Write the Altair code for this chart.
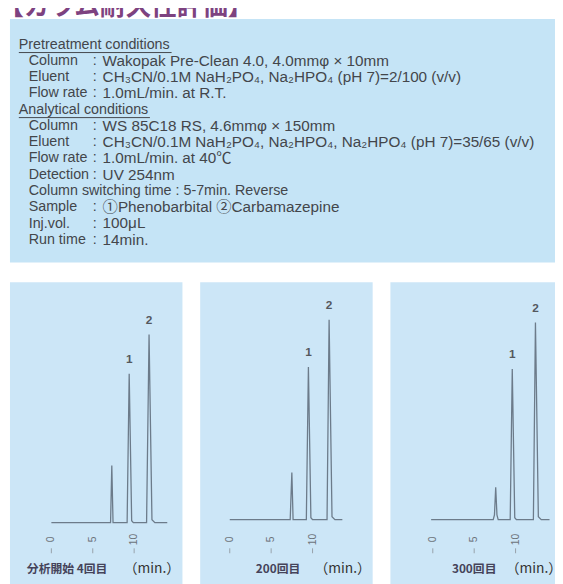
import altair as alt
import pandas as pd

# ---------------- data ----------------
TITLE = "【カラム耐久性評価】"

COND_LABELS = [
    "Pretreatment conditions", "Column", "Eluent", "Flow rate",
    "Analytical conditions", "Column", "Eluent", "Flow rate", "Detection",
    "Column switching time  :  5-7min. Reverse", "Sample", "Inj.vol.", "Run time",
]
COND_SEPS = ["", ":", ":", ":", "", ":", ":", ":", ":", "", ":", ":", ":"]
COND_VALUES = [
    "", "Wakopak Pre-Clean 4.0,  4.0mmφ × 10mm",
    "CH₃CN/0.1M NaH₂PO₄, Na₂HPO₄ (pH 7)=2/100 (v/v)",
    "1.0mL/min.  at R.T.",
    "", "WS 85C18 RS, 4.6mmφ × 150mm",
    "CH₃CN/0.1M NaH₂PO₄, Na₂HPO₄, Na₂HPO₄ (pH 7)=35/65 (v/v)",
    "1.0mL/min.  at 40℃", "UV 254nm", "",
    "①Phenobarbital   ②Carbamazepine", "100μL", "14min.",
]
COND_HEADER = [True, False, False, False, True, False, False, False, False,
               False, False, False, False]

PANEL_CAPTIONS = ["分析開始 4回目", "200回目", "300回目"]
UNIT_LABEL = "（min.）"
TICK_VALUES = [0, 5, 10]
PEAK_NAMES = ["1", "2"]

# chromatograms: time (min) and detector response (arbitrary units)
TIMES_1 = [0.0, 7.15, 7.3, 7.45, 9.15, 9.4, 9.7, 9.9, 11.5, 11.8, 12.15, 12.5, 14.0]
SIGNAL_1 = [0, 0, 58, 0, 0, 151, 2, 0, 0, 191, 3, 0, 0]
TIMES_2 = [0.0, 7.3, 7.5, 7.65, 9.25, 9.5, 9.8, 10.0, 11.75, 12.0, 12.35, 12.7, 13.6]
SIGNAL_2 = [0, 0, 48, 0, 0, 155, 2, 0, 0, 203, 3, 0, 0]
TIMES_3 = [-0.2, 7.3, 7.45, 7.6, 7.75, 7.9, 9.35, 9.6, 9.9, 10.1, 12.15, 12.4, 12.75, 13.1, 14.1]
SIGNAL_3 = [0, 0, 5, 33, 5, 0, 0, 153, 2, 0, 0, 200, 3, 0, 0]

PEAK_TIMES = [[9.4, 11.8], [9.5, 12.0], [9.6, 12.4]]
PEAK_HEIGHTS = [[151, 191], [155, 203], [153, 200]]

# ---------------- styles / layout ----------------
W, H = 555, 576
BOX_BG = "#c5e4f6"
PANEL_BG = "#cce6f7"
TEXT_C = "#43464b"
LINE_C = "#6c7b8a"
FONT = "Liberation Sans, Noto Sans CJK JP"
CJK = "Noto Sans CJK JP"
FS_LAB = 14.5
FS_VAL = 15.5

panel_boxes = [(2, 177), (195, 370), (388, 560)]
x_ranges = [(44, 44 + 14 * 8.4), (225, 225 + 14 * 8.4), (431, 431 + 14 * 8.4)]
baselines = [518, 515, 515]
cap_x = [60, 274, 473]
unit_x = [146, 339.5, 533.5]

layers = []

# title (partially above the picture)
layers.append(
    alt.Chart(pd.DataFrame({"t": [TITLE]})).mark_text(
        font=CJK, fontSize=26, fontWeight="bold", color="#7d4280",
        align="left", baseline="alphabetic"
    ).encode(x=alt.value(-10), y=alt.value(3), text="t:N")
)

# condition box
layers.append(
    alt.Chart(pd.DataFrame({"a": [0]})).mark_rect(color=BOX_BG).encode(
        x=alt.value(2), x2=alt.value(W), y=alt.value(7), y2=alt.value(254)
    )
)

cond = pd.DataFrame({
    "row": list(range(len(COND_LABELS))),
    "label": COND_LABELS, "sep": COND_SEPS, "value": COND_VALUES,
    "header": COND_HEADER,
})
yrow = alt.Y("row:Q", scale=alt.Scale(domain=[0, 12], range=[33, 231], nice=False, zero=False), axis=None)

base_txt = alt.Chart(cond)
layers.append(
    base_txt.transform_filter("datum.header").mark_text(
        font=FONT, fontSize=FS_LAB, color=TEXT_C, align="left", baseline="middle"
    ).encode(x=alt.value(11), y=yrow, text="label:N")
)
layers.append(
    base_txt.transform_filter("!datum.header").mark_text(
        font=FONT, fontSize=FS_LAB, color=TEXT_C, align="left", baseline="middle"
    ).encode(x=alt.value(21), y=yrow, text="label:N")
)
layers.append(
    base_txt.mark_text(
        font=FONT, fontSize=FS_LAB, color=TEXT_C, align="left", baseline="middle"
    ).encode(x=alt.value(86), y=yrow, text="sep:N")
)
layers.append(
    base_txt.mark_text(
        font=FONT, fontSize=FS_VAL, color=TEXT_C, align="left", baseline="middle"
    ).encode(x=alt.value(96), y=yrow, text="value:N")
)
# underlines of headers
for r, x_end in [(0, 166), (4, 144)]:
    layers.append(
        alt.Chart(cond).transform_filter(f"datum.row == {r}").mark_rule(
            color=TEXT_C, strokeWidth=1
        ).encode(
            x=alt.value(11), x2=alt.value(x_end),
            y=alt.Y("row:Q", scale=alt.Scale(domain=[0, 12], range=[41, 239], nice=False, zero=False), axis=None),
        )
    )

# panels
traces = [(TIMES_1, SIGNAL_1), (TIMES_2, SIGNAL_2), (TIMES_3, SIGNAL_3)]
for i in range(3):
    x0, x1 = panel_boxes[i]
    layers.append(
        alt.Chart(pd.DataFrame({"a": [0]})).mark_rect(color=PANEL_BG).encode(
            x=alt.value(x0), x2=alt.value(x1), y=alt.value(274), y2=alt.value(H + 10)
        )
    )
    xs = alt.Scale(domain=[0, 14], range=list(x_ranges[i]), nice=False, zero=False)
    ys = alt.Scale(domain=[0, 200], range=[baselines[i], baselines[i] - 200], nice=False, zero=False)
    t, s = traces[i]
    df = pd.DataFrame({"t": t, "s": s, "o": list(range(len(t)))})
    layers.append(
        alt.Chart(df).mark_line(color=LINE_C, strokeWidth=1.3, clip=False).encode(
            x=alt.X("t:Q", scale=xs, axis=None),
            y=alt.Y("s:Q", scale=ys, axis=None),
            order="o:Q",
        )
    )
    pk = pd.DataFrame({"t": PEAK_TIMES[i], "s": PEAK_HEIGHTS[i], "n": PEAK_NAMES})
    layers.append(
        alt.Chart(pk).mark_text(
            font=FONT, fontSize=12, fontWeight="bold", color="#55585e", dy=-15, baseline="middle"
        ).encode(
            x=alt.X("t:Q", scale=xs, axis=None),
            y=alt.Y("s:Q", scale=ys, axis=None),
            text="n:N",
        )
    )
    tk = pd.DataFrame({"v": TICK_VALUES, "lab": [str(v) for v in TICK_VALUES]})
    layers.append(
        alt.Chart(tk).mark_text(
            font=FONT, fontSize=10.5, color="#6d737a", angle=270, align="center", baseline="middle"
        ).encode(x=alt.X("v:Q", scale=xs, axis=None), y=alt.value(535), text="lab:N")
    )
    layers.append(
        alt.Chart(tk).mark_rule(color="#8a9096", strokeWidth=0.8).encode(
            x=alt.X("v:Q", scale=xs, axis=None), y=alt.value(544), y2=alt.value(549)
        )
    )
    layers.append(
        alt.Chart(pd.DataFrame({"c": [PANEL_CAPTIONS[i]]})).mark_text(
            font=CJK, fontSize=12, fontWeight="bold", color="#45435a", align="center", baseline="middle"
        ).encode(x=alt.value(cap_x[i]), y=alt.value(565), text="c:N")
    )
    layers.append(
        alt.Chart(pd.DataFrame({"c": [UNIT_LABEL]})).mark_text(
            font=CJK, fontSize=14, color="#333333", align="center", baseline="middle"
        ).encode(x=alt.value(unit_x[i]), y=alt.value(565), text="c:N")
    )

chart = alt.layer(*layers).resolve_scale(x="independent", y="independent").properties(
    width=W, height=H, autosize=alt.AutoSizeParams(type="none"), padding=0,
    background="white",
).configure_view(stroke=None)

chart.save("out.html", embed_options={"renderer": "svg", "actions": False})
